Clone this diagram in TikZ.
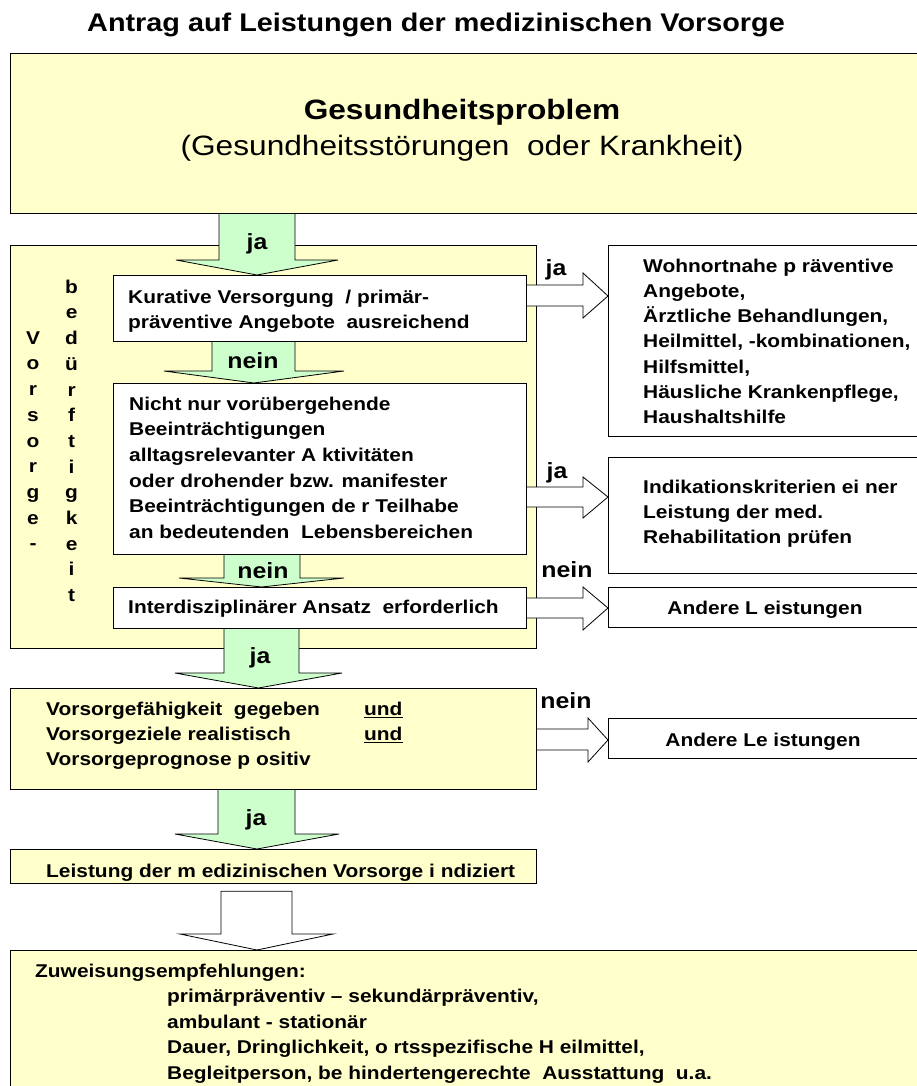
\documentclass[tikz,border=0pt]{standalone}
\usepackage{fontspec}
\setmainfont{Liberation Sans}[FakeStretch=1.13]
\usetikzlibrary{calc}
\definecolor{yfill}{HTML}{FFFFCC}
\definecolor{gfill}{HTML}{CCFFCC}
\newcommand{\myst}{\rule{0pt}{18pt}}
\pgfdeclarelayer{bg}
\pgfdeclarelayer{mid}
\pgfsetlayers{bg,mid,main}
\begin{document}
\begin{tikzpicture}[x=1pt,y=-1pt,
  box/.style={draw=black, line width=1.2pt, inner sep=0pt, anchor=north west},
  ybox/.style={box, fill=yfill},
  wbox/.style={box, fill=white},
  txt/.style={inner sep=0pt, align=left, anchor=north west, font=\fontsize{18.5}{25}\selectfont\bfseries},
  lbl/.style={inner sep=0pt, anchor=base, font=\fontsize{22}{26}\selectfont\bfseries},
  vcol/.style={inner sep=0pt, align=center, anchor=north, font=\fontsize{18.5}{25.7}\selectfont\bfseries},
  garr/.style={fill=gfill, draw=black, line width=0.8pt, line join=miter},
  oarr/.style={fill=white, draw=black, line width=0.8pt, line join=miter}]
\useasboundingbox (0,0) rectangle (917,1086);
\clip (0,0) rectangle (917,1086);

% ---------- yellow boxes ----------
\begin{pgfonlayer}{bg}
\fill[white] (0,0) rectangle (917,1086);
\node[ybox, minimum width=915pt, minimum height=160pt] (top) at (10,53) {};
\node[ybox, minimum width=526pt, minimum height=403pt] (vors) at (10,245) {};
\node[ybox, minimum width=526pt, minimum height=101pt] (vf) at (10,688) {};
\node[ybox, minimum width=526pt, minimum height=34pt] (leist) at (10,849) {};
\node[ybox, minimum width=915pt, minimum height=150pt] (zuw) at (10,950) {};
\end{pgfonlayer}

% ---------- white boxes ----------
\node[wbox, minimum width=413pt, minimum height=66pt] (kur) at (113,275) {};
\node[wbox, minimum width=413pt, minimum height=171pt] (nicht) at (113,383) {};
\node[wbox, minimum width=413pt, minimum height=41pt] (inter) at (113,587) {};
\node[wbox, minimum width=317pt, minimum height=191pt] (wohn) at (608,245) {};
\node[wbox, minimum width=317pt, minimum height=116pt] (indik) at (608,457) {};
\node[wbox, minimum width=317pt, minimum height=40pt] (and1) at (608,587) {};
\node[wbox, minimum width=317pt, minimum height=40pt] (and2) at (608,718) {};

\coordinate (a6top) at ($(leist.south)+(0,7)$);

% ---------- block arrows ----------
\begin{pgfonlayer}{mid}
\path[garr] (219,0 |- top.south) -- (219,260) -- (176,260) -- (257,0 |- kur.north) -- (338,260) -- (295,260) -- (295,0 |- top.south);
\path[garr] (212,0 |- kur.south) -- (212,371) -- (164,371) -- (254,0 |- nicht.north) -- (344,371) -- (295,371) -- (295,0 |- kur.south);
\path[garr] (224,0 |- nicht.south) -- (224,578) -- (179,578) -- (261.5,0 |- inter.north) -- (344,578) -- (300,578) -- (300,0 |- nicht.south);
\path[garr] (224,0 |- inter.south) -- (224,673) -- (175,673) -- (258.5,0 |- vf.north) -- (342,673) -- (299,673) -- (299,0 |- inter.south);
\path[garr] (218,0 |- vf.south) -- (218,834) -- (175,834) -- (257,0 |- leist.north) -- (339,834) -- (295,834) -- (295,0 |- vf.south);
\path[oarr] (221,0 |- a6top) -- (221,934) -- (180,934) -- (257,0 |- zuw.north) -- (333,934) -- (292,934) -- (292,0 |- a6top) -- cycle;

\path[oarr] (kur.east |- 0,285) -- (583,285) -- (583,273) -- (wohn.west |- 0,296) -- (583,318) -- (583,306) -- (kur.east |- 0,306);
\path[oarr] (nicht.east |- 0,487) -- (583,487) -- (583,477) -- (indik.west |- 0,497) -- (583,518) -- (583,507) -- (nicht.east |- 0,507);
\path[oarr] (inter.east |- 0,598) -- (583,598) -- (583,587) -- (and1.west |- 0,608) -- (583,630) -- (583,618) -- (inter.east |- 0,618);
\path[oarr] (vf.east |- 0,729) -- (588,729) -- (588,718) -- (and2.west |- 0,740) -- (588,762) -- (588,750) -- (vf.east |- 0,750);
\end{pgfonlayer}

% ---------- texts ----------
\node[inner sep=0pt, anchor=base, font=\fontsize{25.5}{30}\selectfont\bfseries] (title) at (436,32) {Antrag auf Leistungen der medizinischen Vorsorge};
\node[inner sep=0pt, anchor=base, font=\fontsize{28}{32}\selectfont\bfseries] (g1) at (462,120) {Gesundheitsproblem};
\node[inner sep=0pt, anchor=base, font=\fontsize{28}{32}\selectfont] (g2) at (462,156) {(Gesundheitsstörungen\ \ oder Krankheit)};

\node[vcol] (vc1) at (33,326) {\myst V\\o\\r\\s\\o\\r\\g\\e\\-};
\node[vcol] (vc2) at (71.6,275) {\myst b\\e\\d\\ü\\r\\f\\t\\i\\g\\k\\e\\i\\t};

\node[txt] (kurT) at (128,285) {\myst Kurative Versorgung\ \ / primär-\\präventive Angebote\ \ ausreichend};
\node[txt, font=\fontsize{18.5}{25.6}\selectfont\bfseries] (nichtT) at (129,392) {\myst Nicht nur vorübergehende\\Beeinträchtigungen\\alltagsrelevanter A ktivitäten\\oder drohender bzw. manifester\\Beeinträchtigungen de r Teilhabe\\an bedeutenden\ \ Lebensbereichen};
\node[txt] (interT) at (128,595) {\myst Interdisziplinärer Ansatz\ \ erforderlich};

\node[txt, font=\fontsize{18.5}{25.2}\selectfont\bfseries] (wohnT) at (643,254) {\myst Wohnortnahe p räventive\\Angebote,\\Ärztliche Behandlungen,\\Heilmittel, -kombinationen,\\Hilfsmittel,\\Häusliche Krankenpflege,\\Haushaltshilfe};
\node[txt] (indikT) at (643,475) {\myst Indikationskriterien ei ner\\Leistung der med.\\Rehabilitation prüfen};
\node[txt, anchor=base] (and1T) at (765,614) {Andere L eistungen};
\node[txt, anchor=base] (and2T) at (763,746) {Andere Le istungen};

\node[txt] (vfT) at (46,697) {\myst\makebox[318pt][l]{Vorsorgefähigkeit\ \ gegeben}\underline{und}\\\makebox[318pt][l]{Vorsorgeziele realistisch}\underline{und}\\Vorsorgeprognose p ositiv};
\node[txt, anchor=base west] (leistT) at (46,877) {Leistung der m edizinischen Vorsorge i ndiziert};
\node[txt, font=\fontsize{18.5}{25.5}\selectfont\bfseries] (zuwT) at (35,959) {\myst Zuweisungsempfehlungen:\\\hspace*{132pt}primärpräventiv – sekundärpräventiv,\\\hspace*{132pt}ambulant - stationär\\\hspace*{132pt}Dauer, Dringlichkeit, o rtsspezifische H eilmittel,\\\hspace*{132pt}Begleitperson, be hindertengerechte\ \ Ausstattung\ \ u.a.};

% ---------- arrow labels ----------
\node[lbl] (l1) at (257,249) {ja};
\node[lbl] (l2) at (253,368) {nein};
\node[lbl] (l3) at (263,578) {nein};
\node[lbl] (l4) at (260,663) {ja};
\node[lbl] (l5) at (256,825) {ja};
\node[lbl] (r1) at (556,275) {ja};
\node[lbl] (r2) at (557,478) {ja};
\node[lbl] (r3) at (567,577) {nein};
\node[lbl] (r4) at (566,708) {nein};
\end{tikzpicture}
\end{document}
